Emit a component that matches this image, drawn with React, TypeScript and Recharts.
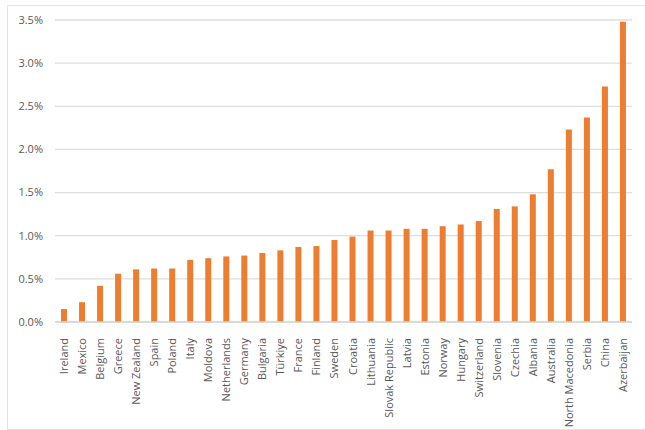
import { BarChart, Bar, XAxis, YAxis, CartesianGrid } from 'recharts';

const countries = [
  'Ireland', 'Mexico', 'Belgium', 'Greece', 'New Zealand', 'Spain', 'Poland', 'Italy',
  'Moldova', 'Netherlands', 'Germany', 'Bulgaria', 'Türkiye', 'France', 'Finland', 'Sweden',
  'Croatia', 'Lithuania', 'Slovak Republic', 'Latvia', 'Estonia', 'Norway', 'Hungary',
  'Switzerland', 'Slovenia', 'Czechia', 'Albania', 'Australia', 'North Macedonia', 'Serbia',
  'China', 'Azerbaijan',
];

const shares = [
  0.15, 0.23, 0.42, 0.56, 0.61, 0.62, 0.62, 0.72,
  0.74, 0.76, 0.77, 0.80, 0.83, 0.87, 0.88, 0.95,
  0.99, 1.06, 1.06, 1.08, 1.08, 1.11, 1.13,
  1.17, 1.31, 1.34, 1.48, 1.77, 2.23, 2.37,
  2.73, 3.48,
];

const yTicks = [0, 0.5, 1, 1.5, 2, 2.5, 3, 3.5];

const data = countries.map((name, i) => ({ name, value: shares[i] }));

const FONT = '"Open Sans", "Liberation Sans", sans-serif';
const TXT = '#595959';

const CountryTick = ({ x, y, payload }: any) => (
  <text
    x={0}
    y={0}
    transform={`translate(${x + 4},${y + 8}) rotate(-90)`}
    textAnchor="end"
    fontSize={11}
    fontFamily={FONT}
    fill={TXT}
  >
    {payload.value}
  </text>
);

export default function App() {
  return (
    <div style={{ position: 'absolute', left: 0, top: 0, width: 645, height: 430, overflow: 'hidden', background: '#fff' }}>
      <div
        style={{
          position: 'absolute',
          left: 7,
          top: 5,
          width: 680,
          height: 423,
          border: '1.5px solid #e3e3e3',
        }}
      />
      <div style={{ position: 'absolute', left: 0, top: 0 }}>
        <BarChart
          width={645}
          height={430}
          data={data}
          margin={{ top: 20, right: 13, bottom: 0, left: 0 }}
        >
          <CartesianGrid vertical={false} stroke="#dedede" strokeWidth={1.3} />
          <XAxis
            dataKey="name"
            interval={0}
            height={108}
            axisLine={{ stroke: '#d6d6d6', strokeWidth: 1.3 }}
            tickLine={false}
            tick={<CountryTick />}
          />
          <YAxis
            width={55}
            domain={[0, 3.5]}
            ticks={yTicks}
            axisLine={false}
            tickLine={false}
            tickMargin={6}
            tickFormatter={(v: number) => `${v.toFixed(1)}%`}
            tick={{ fontSize: 11, fontFamily: FONT, fill: TXT }}
          />
          <Bar dataKey="value" fill="#ED7D31" barSize={6} isAnimationActive={false} />
        </BarChart>
      </div>
    </div>
  );
}
